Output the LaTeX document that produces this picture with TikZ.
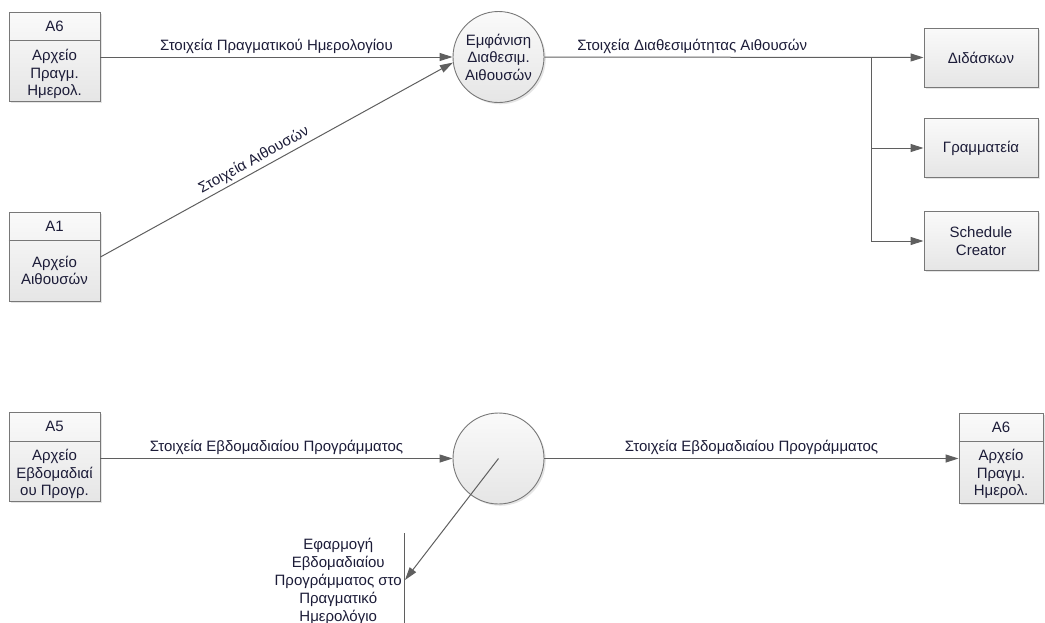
\documentclass[tikz,border=0pt]{standalone}
\usepackage{fontspec}
\setmainfont{Liberation Sans}
\usetikzlibrary{arrows.meta,shadows,calc}
\definecolor{ink}{RGB}{28,28,56}
\definecolor{wire}{RGB}{95,95,95}
\definecolor{rim}{RGB}{120,120,120}
\tikzset{
  shaded/.style={draw=rim, line width=0.9pt, top color=white!98!black, bottom color=white!90!black,
    drop shadow={shadow xshift=1.8pt, shadow yshift=-1.8pt, fill=black!25, opacity=.4}},
  store/.style={shaded, rectangle, inner sep=0},
  entity/.style={shaded, rectangle, inner sep=0, align=center},
  process/.style={shaded, circle, minimum size=91pt, inner sep=0, align=center},
  lbl/.style={inner sep=0, align=center},
  divider/.style={draw=rim, line width=0.9pt},
  flow/.style={draw=wire, line width=1pt, -{Triangle[length=13pt,width=8pt]}},
  wire line/.style={draw=wire, line width=1pt},
}
\begin{document}
\begin{tikzpicture}[x=1pt, y=-1pt, font=\fontsize{15}{17.5}\selectfont, text=ink]
\useasboundingbox (0,0) rectangle (1045,622);

% ---------- upper process: room availability ----------
\node[store, minimum width=91pt, minimum height=89pt] (s6) at (54.5,57) {};
\draw[divider] ($(s6.north west)+(0,28)$) -- ($(s6.north east)+(0,28)$);
\node[lbl] (s6h) at ($(s6.north)+(0,14)$) {A6};
\node[lbl] (s6b) at ($(s6.north)+(0,62)$) {Αρχείο\\Πραγμ.\\Ημερολ.};

\node[store, minimum width=91pt, minimum height=89pt] (s1) at (54.5,257) {};
\draw[divider] ($(s1.north west)+(0,28)$) -- ($(s1.north east)+(0,28)$);
\node[lbl] (s1h) at ($(s1.north)+(0,14)$) {A1};
\node[lbl] (s1b) at ($(s1.north)+(0,58.5)$) {Αρχείο\\Αιθουσών};

\node[process] (p1) at (498.5,57) {Εμφάνιση\\Διαθεσιμ.\\Αιθουσών};

\node[entity, minimum width=114pt, minimum height=59pt] (d1) at (981,57.5) {Διδάσκων};
\node[entity, minimum width=114pt, minimum height=59pt] (d2) at (981,148) {Γραμματεία};
\node[entity, minimum width=114pt, minimum height=59pt] (d3) at (981,241) {Schedule\\Creator};

\draw[flow] (s6.east) -- node[lbl, above=3pt] (f1) {Στοιχεία Πραγματικού Ημερολογίου} (p1.west);
\draw[flow] (s1.east) -- node[lbl, sloped, above=3pt, pos=0.45] (f2) {Στοιχεία Αιθουσών} (p1.187);

\coordinate (j1) at (871.5,57);
\draw[flow] (p1.east) -- node[lbl, above=3pt, pos=0.39] (f3) {Στοιχεία Διαθεσιμότητας Αιθουσών} (d1.west);
\draw[wire line] (j1) -- (j1 |- d3.west);
\draw[flow] (j1) |- (d2.west);
\draw[flow] (j1) |- (d3.west);

% ---------- lower process: applying the weekly schedule ----------
\node[store, minimum width=91pt, minimum height=89pt] (s5) at (54.5,457) {};
\draw[divider] ($(s5.north west)+(0,29)$) -- ($(s5.north east)+(0,29)$);
\node[lbl] (s5h) at ($(s5.north)+(0,14.5)$) {A5};
\node[lbl] (s5b) at ($(s5.north)+(0,62)$) {Αρχείο\\Εβδομαδιαί\\ου Προγρ.};

\node[process] (p2) at (498.5,458.5) {};

\node[store, minimum width=84pt, minimum height=90pt] (s6r) at (1001,458) {};
\draw[divider] ($(s6r.north west)+(0,29)$) -- ($(s6r.north east)+(0,29)$);
\node[lbl] (s6rh) at ($(s6r.north)+(0,14.5)$) {A6};
\node[lbl] (s6rb) at ($(s6r.north)+(0,61.5)$) {Αρχείο\\Πραγμ.\\Ημερολ.};

\draw[flow] (s5.east |- p2.west) -- node[lbl, above=3pt] (f4) {Στοιχεία Εβδομαδιαίου Προγράμματος} (p2.west);
\draw[flow] (p2.east) -- node[lbl, above=3pt] (f5) {Στοιχεία Εβδομαδιαίου Προγράμματος} (s6r.west |- p2.east);

% open-ended external entity
\coordinate (t1top) at (404,533);
\coordinate (t1bot) at (404,640);
\coordinate (t1tip) at (405,580);
\draw[wire line] (t1top) -- (t1bot);
\node[lbl, anchor=east, font=\fontsize{15}{18}\selectfont] (t1) at (402,581) {Εφαρμογή\\Εβδομαδιαίου\\Προγράμματος στο\\Πραγματικό\\Ημερολόγιο};
\draw[flow] (p2.center) -- (t1tip);
\end{tikzpicture}
\end{document}
